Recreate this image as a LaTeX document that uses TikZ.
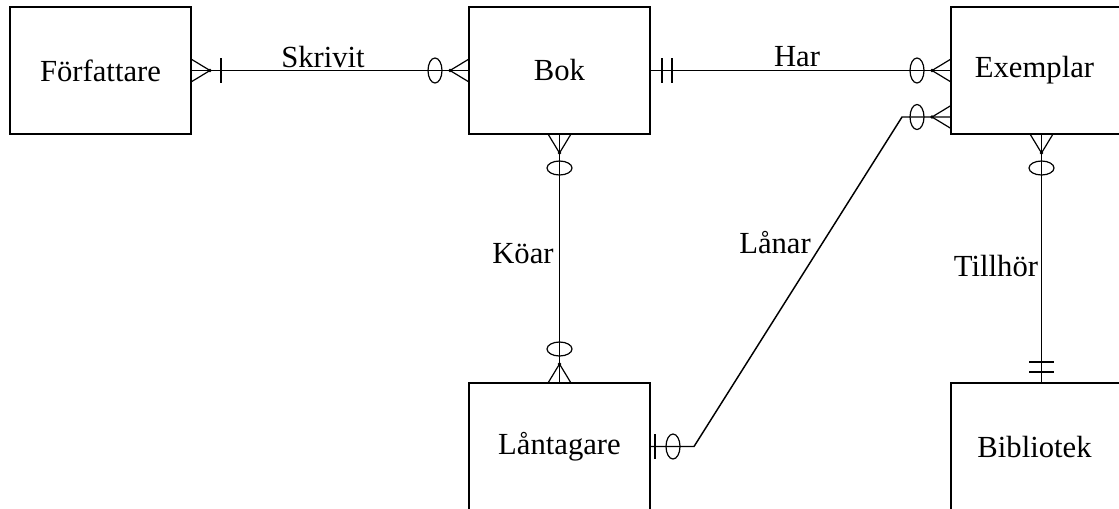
\documentclass[tikz,border=0pt]{standalone}
\usepackage{fontspec}
\setmainfont{Liberation Serif}
\usetikzlibrary{calc}
\begin{document}
\begin{tikzpicture}[x=0.75pt,y=-0.75pt,
  entity/.style={draw, line width=1.3pt, minimum width=135.75pt, minimum height=95.25pt,
    inner sep=0pt, outer sep=0pt, font=\fontsize{23}{27}\selectfont},
  conn/.style={line width=1.1pt},
  lbl/.style={inner sep=1pt, font=\fontsize{23}{27}\selectfont},
  many/.pic={\draw[line width=0.9pt] (0,-11.5) -- (19,0) -- (0,11.5);
             \fill (19,0) circle[radius=1.8];},
  zero/.pic={\draw[line width=0.9pt] (#1,0) ellipse[x radius=7, y radius=12.5];},
  bar/.pic={\draw[line width=1.1pt] (#1,-12.5) -- (#1,12.5);}
]
\useasboundingbox (0,0) rectangle (1119,508);
\clip (0,0) rectangle (1119,508);

\node[entity] (forf) at (100.5,70.5) {Författare};
\node[entity] (bok)  at (559.5,70.5) {Bok};
\node[entity] (exem) at (1041.5,70.5) {\hspace*{-10.5pt}Exemplar};
\node[entity] (lant) at (559.5,446.5) {\raisebox{3pt}{Låntagare}};
\node[entity] (bibl) at (1041.5,446.5) {\hspace*{-10.5pt}Bibliotek};

% Skrivit
\draw[conn] (forf.east) -- (bok.west);
\path (forf.east) pic{many} pic{bar=30};
\path (bok.west) pic[rotate=180]{many} pic[rotate=180]{zero=34};
\node[lbl] (lsk) at (323,57) {Skrivit};

% Har
\draw[conn] (bok.east) -- (exem.west);
\path (bok.east) pic{bar=12} pic{bar=22};
\path (exem.west) pic[rotate=180]{many} pic[rotate=180]{zero=34};
\node[lbl] (lhar) at (797,57) {Har};

% Koar
\draw[conn] (bok.south) -- (lant.north);
\path (bok.south) pic[rotate=-90]{many} pic[rotate=-90]{zero=34};
\path (lant.north) pic[rotate=90]{many} pic[rotate=90]{zero=34};
\node[lbl] (lkoar) at (523,254) {Köar};

% Tillhor
\draw[conn] (exem.south) -- (bibl.north);
\path (exem.south) pic[rotate=-90]{many} pic[rotate=-90]{zero=34};
\path (bibl.north) pic[rotate=90]{bar=11} pic[rotate=90]{bar=21};
\node[lbl] (ltill) at (996,266) {Tillhör};

% Lanar
\coordinate (ln1) at ($(lant.east)+(44,0)$);
\coordinate (ln2) at (902,117);
\coordinate (lnE) at (exem.west |- ln2);
\draw[conn] (lant.east) -- (ln1) -- (ln2) -- (lnE);
\path (lant.east) pic{bar=5} pic{zero=23};
\path (lnE) pic[rotate=180]{many} pic[rotate=180]{zero=34};
\node[lbl] (llan) at (775,243) {Lånar};
\end{tikzpicture}
\end{document}
